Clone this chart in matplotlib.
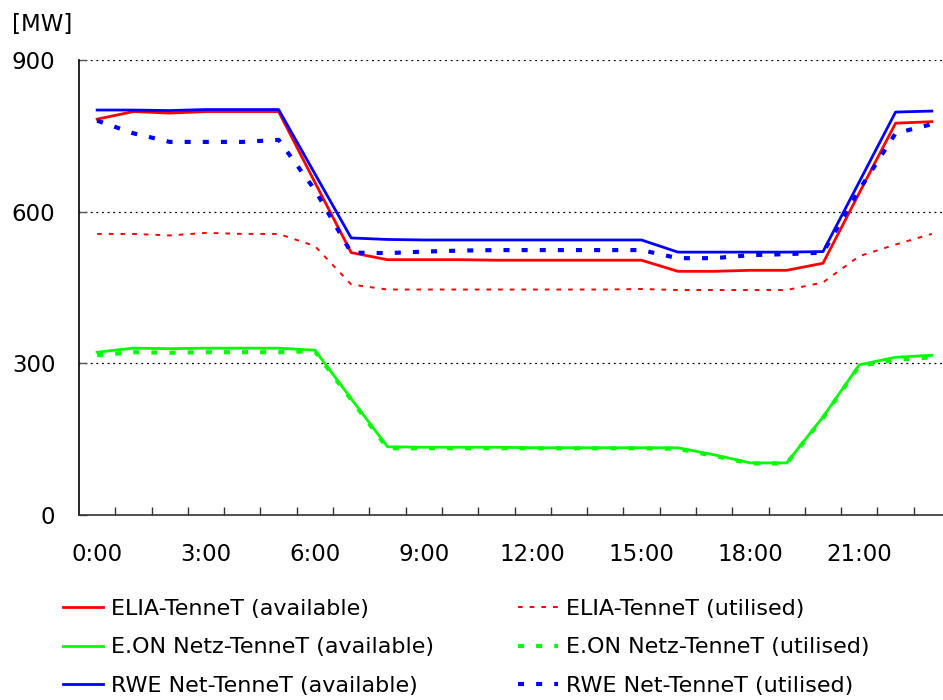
import matplotlib
matplotlib.use("Agg")
import matplotlib.pyplot as plt
import numpy as np

plt.rcParams['font.family'] = ['DejaVu Sans']

hours = np.arange(24)
hour_labels = ['%d:00' % h for h in range(0, 24, 3)]

# available / utilised capacity per hour [MW]
elia_avail = [783, 798, 795, 798, 798, 798, 658, 519, 505, 505, 505, 504, 504, 504, 504, 504,
              482, 482, 484, 484, 498, 637, 775, 778]
elia_used = [556, 556, 553, 558, 556, 556, 532, 456, 446, 446, 446, 446, 446, 446, 446, 447,
             445, 445, 445, 445, 460, 512, 535, 556]
eon_avail = [322, 330, 329, 330, 330, 330, 326, 230, 135, 134, 134, 134, 133, 133, 133, 133,
             133, 119, 103, 103, 194, 297, 312, 316]
eon_used = [316, 322, 321, 322, 322, 322, 324, 228, 132, 132, 132, 132, 132, 132, 132, 132,
            131, 117, 102, 102, 192, 295, 307, 312]
rwe_avail = [801, 801, 800, 802, 802, 802, 675, 548, 545, 544, 544, 544, 544, 544, 544, 544,
             520, 520, 520, 520, 521, 659, 797, 799]
rwe_used = [780, 755, 738, 738, 738, 742, 643, 519, 518, 521, 523, 524, 524, 524, 524, 524,
            508, 508, 514, 516, 519, 643, 755, 773]

fig = plt.figure(figsize=(9.43, 7), dpi=100)
ax = fig.add_axes([79/943, 185/700, 871/943, 455/700])

ax.plot(hours, elia_avail, color='#ff0000', lw=2, label='ELIA-TenneT (available)')
ax.plot(hours, eon_avail, color='#00ff00', lw=2, label='E.ON Netz-TenneT (available)')
ax.plot(hours, rwe_avail, color='#0000ff', lw=2, label='RWE Net-TenneT (available)')
ax.plot(hours, elia_used, color='#ff0000', lw=1.4, dashes=(2.4, 3.6), label='ELIA-TenneT (utilised)')
ax.plot(hours, eon_used, color='#00ff00', lw=3, dashes=(1.45, 2.9), label='E.ON Netz-TenneT (utilised)')
ax.plot(hours, rwe_used, color='#0000ff', lw=3, dashes=(1.45, 2.9), label='RWE Net-TenneT (utilised)')

ax.set_xlim(-0.5, 23.5)
ax.set_ylim(0, 900)
ax.set_yticks([0, 300, 600, 900])
ax.set_xticks(range(0, 24, 3))
ax.set_xticklabels(hour_labels)
ax.set_xticks(np.arange(0.5, 23.5, 1), minor=True)
ax.tick_params(axis='x', which='major', length=0, pad=20, labelsize=16.5)
ax.tick_params(axis='x', which='minor', direction='in', length=6, width=1, color='#333333')
ax.tick_params(axis='y', direction='in', length=6, width=1, color='#555555', pad=17, labelsize=16.5)

for v in [300, 600, 900]:
    ax.axhline(v, color='black', lw=0.9, dashes=(1.5, 3), zorder=0)

ax.spines['top'].set_visible(False)
ax.spines['right'].set_visible(False)
ax.spines['left'].set_linewidth(1.2)
ax.spines['bottom'].set_linewidth(1.2)
ax.spines['bottom'].set_color('#333333')

fig.text(12/943, 1 - 25/700, '[MW]', fontsize=16.5, va='center', ha='left')

h, l = ax.get_legend_handles_labels()
fig.legend(h, l, ncol=2, loc='upper left', bbox_to_anchor=(43/943, 1 - 579/700),
           frameon=False, fontsize=16, handlelength=1.8, handletextpad=0.34,
           columnspacing=3.8, labelspacing=0.83)

fig.savefig('out.png', dpi=100)
